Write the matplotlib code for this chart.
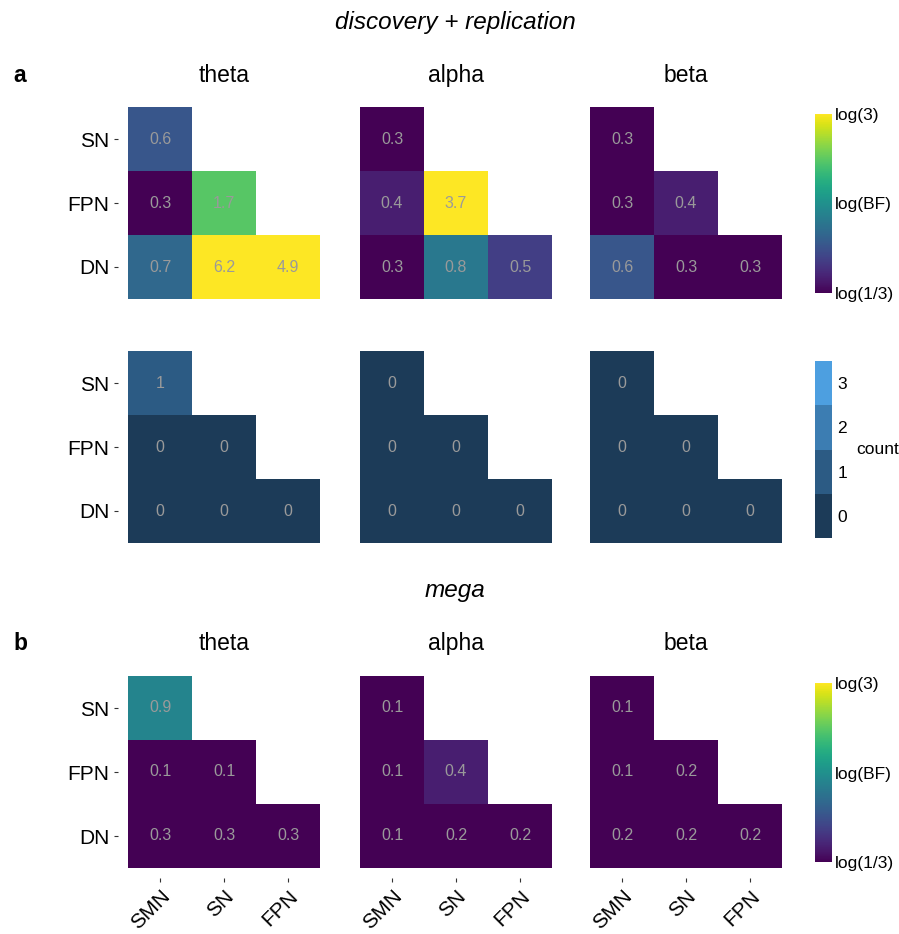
import numpy as np
import matplotlib
matplotlib.use("Agg")
import matplotlib.pyplot as plt
from matplotlib.colors import Normalize, ListedColormap, BoundaryNorm
from matplotlib.cm import ScalarMappable

plt.rcParams['font.family'] = ['Liberation Sans', 'DejaVu Sans']

# ---- data -------------------------------------------------------------
cols = ["SMN", "SN", "FPN"]
rows = ["SN", "FPN", "DN"]
bands = ["theta", "alpha", "beta"]

# Bayes factors, discovery + replication (lower triangle, row by row)
bf_disc_theta = [[0.6], [0.3, 1.7], [0.7, 6.2, 4.9]]
bf_disc_alpha = [[0.3], [0.4, 3.7], [0.3, 0.8, 0.5]]
bf_disc_beta = [[0.3], [0.3, 0.4], [0.6, 0.3, 0.3]]

# number of significant results
count_theta = [[1], [0, 0], [0, 0, 0]]
count_alpha = [[0], [0, 0], [0, 0, 0]]
count_beta = [[0], [0, 0], [0, 0, 0]]

# Bayes factors, mega-analysis
bf_mega_theta = [[0.9], [0.1, 0.1], [0.3, 0.3, 0.3]]
bf_mega_alpha = [[0.1], [0.1, 0.4], [0.1, 0.2, 0.2]]
bf_mega_beta = [[0.1], [0.1, 0.2], [0.2, 0.2, 0.2]]

count_levels = [0, 1, 2, 3]
count_colors = ["#1c3b58", "#2c5b84", "#3c7db2", "#4d9fe0"]

# ---- layout helpers (pixel based) -------------------------------------
W, H = 899, 934
fig = plt.figure(figsize=(W / 100, H / 100), dpi=100)


def px_axes(left, top, w, h):
    return fig.add_axes([left / W, 1 - (top + h) / H, w / W, h / H])


def px_text(x, y, s, **kw):
    return fig.text(x / W, 1 - y / H, s, **kw)


def to_matrix(tri):
    m = np.full((3, 3), np.nan)
    for r, vals in enumerate(tri):
        for c, v in enumerate(vals):
            m[r, c] = v
    return m


panel_left = [128, 360, 590]
row_top = [107, 351, 676]
tile = 64
gap = 10
m = gap / tile

bf_norm = Normalize(vmin=np.log(1 / 3), vmax=np.log(3), clip=True)
bf_cmap = plt.get_cmap("viridis").copy()
bf_cmap.set_bad((1, 1, 1, 0))
cnt_cmap = ListedColormap(count_colors)
cnt_cmap.set_bad((1, 1, 1, 0))
cnt_norm = BoundaryNorm([-0.5, 0.5, 1.5, 2.5, 3.5], 4)

row_data = [
    [bf_disc_theta, bf_disc_alpha, bf_disc_beta],
    [count_theta, count_alpha, count_beta],
    [bf_mega_theta, bf_mega_alpha, bf_mega_beta],
]

for ri in range(3):
    for bi in range(3):
        tri = row_data[ri][bi]
        mat = to_matrix(tri)
        ax = px_axes(panel_left[bi] - gap, row_top[ri] - gap,
                     3 * tile + 2 * gap, 3 * tile + 2 * gap)
        if ri == 1:
            ax.imshow(np.ma.masked_invalid(mat), cmap=cnt_cmap, norm=cnt_norm,
                      aspect="auto", interpolation="nearest")
            fmt = lambda v: f"{int(v)}"
        else:
            ax.imshow(np.ma.masked_invalid(np.log(mat)), cmap=bf_cmap,
                      norm=bf_norm, aspect="auto", interpolation="nearest")
            fmt = lambda v: f"{v:.1f}"
        for r in range(3):
            for c in range(3):
                if not np.isnan(mat[r, c]):
                    ax.text(c, r, fmt(mat[r, c]), ha="center", va="center",
                            color="#9a9a9a", fontsize=11.5)
        ax.set_xlim(-0.5 - m, 2.5 + m)
        ax.set_ylim(2.5 + m, -0.5 - m)
        for sp in ax.spines.values():
            sp.set_visible(False)
        ax.tick_params(length=2.9, width=0.8, color="#333333",
                       labelsize=15, pad=3.4, labelcolor="black")
        if bi == 0:
            ax.set_yticks(range(3))
            ax.set_yticklabels(rows)
        else:
            ax.set_yticks([])
        if ri == 2:
            ax.set_xticks(range(3))
            ax.set_xticklabels(cols, rotation=45, ha="right", va="top",
                               rotation_mode="anchor")
        else:
            ax.set_xticks([])

# ---- panel titles and section headings --------------------------------
for ri, ybase in [(0, 82), (2, 650)]:
    for bi, b in enumerate(bands):
        px_text(panel_left[bi] + 1.5 * tile, ybase, b, ha="center",
                va="baseline", fontsize=16.5)

px_text(455, 22, "discovery + replication", ha="center", va="center",
        fontsize=17.5, style="italic")
px_text(455, 590, "mega", ha="center", va="center", fontsize=17.5,
        style="italic")
px_text(13, 75, "a", ha="left", va="center", fontsize=16.5, weight="bold")
px_text(13, 643, "b", ha="left", va="center", fontsize=16.5, weight="bold")

# ---- colour bars ------------------------------------------------------
for top, h in [(114, 179), (683, 179)]:
    cax = px_axes(815, top, 17, h)
    cb = fig.colorbar(ScalarMappable(bf_norm, bf_cmap), cax=cax,
                      ticks=[np.log(1 / 3), 0, np.log(3)])
    cb.set_ticklabels(["log(1/3)", "log(BF)", "log(3)"])
    cb.outline.set_visible(False)
    cax.minorticks_off()
    cax.tick_params(which="both", length=0, pad=2, labelsize=12.5)

cax = px_axes(815, 361, 17, 177)
cb = fig.colorbar(ScalarMappable(cnt_norm, cnt_cmap), cax=cax,
                  ticks=count_levels)
cb.set_ticklabels([str(v) for v in count_levels])
cb.outline.set_visible(False)
cax.minorticks_off()
cax.tick_params(which="both", length=0, pad=4, labelsize=12.5)
px_text(856, 449, "count", ha="left", va="center", fontsize=12.5)

fig.savefig("out.png", dpi=100)
